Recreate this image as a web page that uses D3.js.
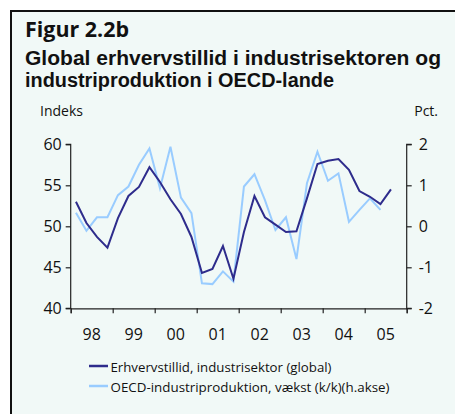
<!DOCTYPE html>
<html>
<head>
<meta charset="utf-8">
<script src="https://cdnjs.cloudflare.com/ajax/libs/d3/7.8.5/d3.min.js"></script>
<style>
  body { margin: 0; background: #fff; }
  svg { display: block; font-family: "Open Sans", "Noto Sans", sans-serif; }
</style>
</head>
<body>
<div id="chart"></div>
<script>
var width = 455;
var height = 414;

// kvartalsdata, 1998K1 - 2005K3
var startAar = 1998;
var aarLabels = ["98", "99", "00", "01", "02", "03", "04", "05"];
var erhvervstillid = [53.0, 50.4, 48.7, 47.4, 51.0, 53.7, 54.8, 57.2,
                      55.4, 53.3, 51.5, 48.7, 44.3, 44.8, 47.6, 43.6,
                      49.3, 53.7, 51.1, 50.2, 49.3, 49.4, 53.4, 57.6,
                      58.0, 58.2, 56.9, 54.3, 53.6, 52.7, 54.5];
var oecdVaekst = [0.33, -0.11, 0.22, 0.22, 0.76, 0.97, 1.5, 1.9,
                  0.93, 1.94, 0.7, 0.32, -1.39, -1.41, -1.1, -1.35,
                  0.97, 1.27, 0.64, -0.09, 0.22, -0.8, 1.05, 1.82,
                  1.11, 1.29, 0.11, 0.4, 0.68, 0.4];
var venstreTicks = [40, 45, 50, 55, 60];
var hoejreTicks = [-2, -1, 0, 1, 2];
var serieNavne = ["Erhvervstillid, industrisektor (global)",
                  "OECD-industriproduktion, vækst (k/k)(h.akse)"];
var farver = ["#2e2c8c", "#99ccff"];

var canvas = d3.select("#chart")
  .append("svg")
  .attr("width", width)
  .attr("height", height);

// baggrund og ramme
canvas.append("rect")
  .attr("x", 10).attr("y", 10)
  .attr("width", width - 10).attr("height", height - 10)
  .attr("fill", "#f1f9f7");
canvas.append("path")
  .attr("d", "M11," + height + "V11H" + width)
  .attr("fill", "none")
  .attr("stroke", "#111")
  .attr("stroke-width", 2);

// titel
var titel = canvas.append("g").attr("font-weight", "bold").attr("fill", "#111");
titel.append("text").attr("x", 25).attr("y", 37).attr("font-size", 21)
  .attr("textLength", 104).attr("lengthAdjust", "spacingAndGlyphs")
  .text("Figur  2.2b");
titel.append("text").attr("x", 25).attr("y", 65).attr("font-size", 19.5)
  .attr("font-family", "Liberation Sans, Arial, sans-serif")
  .attr("textLength", 416).attr("lengthAdjust", "spacingAndGlyphs")
  .text("Global erhvervstillid i industrisektoren og");
titel.append("text").attr("x", 25).attr("y", 87).attr("font-size", 19.5)
  .attr("font-family", "Liberation Sans, Arial, sans-serif")
  .attr("textLength", 309).attr("lengthAdjust", "spacingAndGlyphs")
  .text("industriproduktion i OECD-lande");

canvas.append("text").attr("x", 40).attr("y", 116)
  .attr("font-size", 14).attr("fill", "#111").text("Indeks");
canvas.append("text").attr("x", 438).attr("y", 116)
  .attr("font-size", 14).attr("fill", "#111").attr("text-anchor", "end").text("Pct.");

// skalaer
var x = d3.scaleLinear().domain([startAar, startAar + aarLabels.length]).range([70.7, 406.7]);
var yV = d3.scaleLinear().domain([40, 60]).range([308.3, 144.3]);
var yH = d3.scaleLinear().domain([-2, 2]).range([308.3, 144.3]);

function kvartal(i) { return startAar + (i + 0.5) / 4; }

// akser
var venstre = canvas.append("g").attr("transform", "translate(70.7,0)")
  .call(d3.axisLeft(yV).tickValues(venstreTicks).tickSize(5).tickPadding(4));
var hoejre = canvas.append("g").attr("transform", "translate(406.7,0)")
  .call(d3.axisRight(yH).tickValues(hoejreTicks).tickSize(5).tickPadding(7)
    .tickFormat(function(d) { return String(d); }));
var bund = canvas.append("g").attr("transform", "translate(0,308.3)")
  .call(d3.axisBottom(x).tickValues(d3.range(startAar, startAar + aarLabels.length + 1))
    .tickSize(5).tickFormat(""));

[venstre, hoejre, bund].forEach(function(g) {
  g.select(".domain").attr("stroke", "#222").attr("stroke-width", 1.2);
  g.selectAll(".tick line").attr("stroke", "#222").attr("stroke-width", 1.2);
  g.selectAll("text").attr("font-size", 16).attr("fill", "#111")
    .attr("font-family", "Open Sans, Noto Sans, sans-serif");
});
venstre.select(".domain").attr("d", "M-5,144.3H0V308.3H-5");
hoejre.select(".domain").attr("d", "M5,144.3H0V308.3H5");

// aarstal mellem ticks
canvas.append("g").selectAll("text")
  .data(aarLabels)
  .join("text")
  .attr("x", function(d, i) { return x(startAar + i + 0.5); })
  .attr("y", 340)
  .attr("text-anchor", "middle")
  .attr("font-size", 16)
  .attr("fill", "#111")
  .text(function(d) { return d; });

// linjer
var linjeV = d3.line()
  .x(function(d, i) { return x(kvartal(i)); })
  .y(function(d) { return yV(d); });
var linjeH = d3.line()
  .x(function(d, i) { return x(kvartal(i)); })
  .y(function(d) { return yH(d); });

canvas.append("path")
  .attr("d", linjeH(oecdVaekst))
  .attr("fill", "none")
  .attr("stroke", farver[1])
  .attr("stroke-width", 2);
canvas.append("path")
  .attr("d", linjeV(erhvervstillid))
  .attr("fill", "none")
  .attr("stroke", farver[0])
  .attr("stroke-width", 2);

// legende
var legende = canvas.append("g");
serieNavne.forEach(function(navn, i) {
  legende.append("line")
    .attr("x1", 89).attr("x2", 108)
    .attr("y1", 366 + i * 20).attr("y2", 366 + i * 20)
    .attr("stroke", farver[i]).attr("stroke-width", 2.5);
  legende.append("text")
    .attr("x", 110.5).attr("y", 371.5 + i * 20)
    .attr("font-size", 13.5).attr("fill", "#111")
    .attr("textLength", i == 0 ? 221 : 279).attr("lengthAdjust", "spacingAndGlyphs")
    .text(navn);
});
</script>
</body>
</html>
